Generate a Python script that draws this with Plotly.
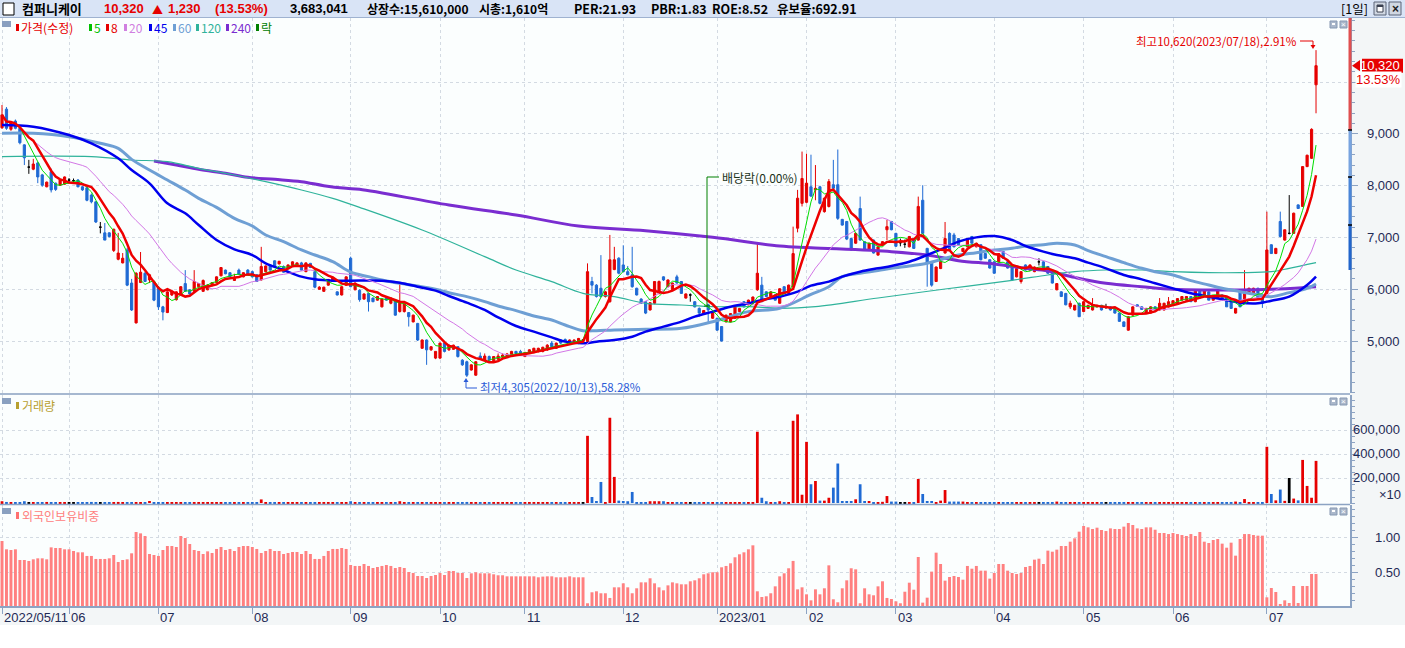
import pandas as pd
import plotly.graph_objects as go

W, H = 1405, 648
KR = "Noto Sans CJK KR"
NUM = "Liberation Sans"

# month ticks (trading-day index) and labels
month_idx = [0, 15, 35, 56, 78, 98, 117, 139, 160, 180, 200, 222, 242, 262, 283]
month_lbl = ["2022/05/11", "06", "07", "08", "09", "10", "11", "12",
             "2023/01", "02", "03", "04", "05", "06", "07"]

opens = [
    9120, 9480, 9090, 9250, 9110, 8790, 8360, 8320, 8440, 8210, 7980, 8270, 8050, 8010, 8030,
    8110, 8100, 8110, 7980, 7960, 7820, 7690, 7200, 7090, 7090, 6750, 6580, 6510, 6760, 6120, 5350, 6130, 6310, 6180, 6140,
    6040, 5660, 5550, 5890, 5800, 5900, 6110, 5990, 5960, 6050, 5960, 5990, 6070, 6130, 6260, 6370, 6320, 6170, 6370, 6240, 6370,
    6340, 6280, 6180, 6340, 6470, 6550, 6490, 6440, 6400, 6470, 6470, 6510, 6340, 6500, 6340, 6000, 5960, 6080, 6150, 5950, 5890, 6080,
    6600, 5990, 5980, 5810, 5920, 5830, 5790, 5660, 5830, 5730, 5790, 5570, 5570, 5550, 5370, 5340, 4860, 5020, 4830, 4670,
    4670, 4960, 4830, 4840, 4890, 4630, 4600, 4440, 4340, 4710, 4630, 4700, 4620, 4650, 4690, 4690, 4710, 4800, 4800,
    4700, 4760, 4780, 4800, 4800, 4830, 4960, 4860, 5020, 5030, 4960, 4960, 4960, 5020, 4990, 6150, 6080, 6020, 5860, 5760, 6380, 6600,
    6470, 6340, 6280, 6020, 5810, 5760, 5600, 5730, 5920, 6240, 6050, 5990, 6240, 6150, 5830, 5890, 5760, 5630, 5540, 5700, 5440,
    5440, 5280, 5370, 5370, 5440, 5570, 5760, 5700, 5730, 5990, 6080, 5950, 5860, 5890, 5730, 6050, 5920, 6050, 7180, 7660,
    7680, 7980, 7920, 7980, 7500, 7600, 8020, 8020, 7350, 7310, 6980, 6890, 7560, 6920, 6760, 6950, 6660, 6860, 7150, 7310,
    7080, 6900, 6870, 6820, 6980, 6950, 7720, 6790, 6530, 6150, 6400, 6700, 7080, 7050, 6980, 6730, 6820, 7020, 6820, 6860, 6690, 6570,
    6530, 6530, 6730, 6530, 6440, 6240, 6150, 6470, 6370, 6340, 6530, 6530, 6440, 6370, 5990, 5950, 5920, 5660, 5600, 5730,
    5570, 5630, 5600, 5660, 5690, 5660, 5660, 5630, 5540, 5370, 5210, 5500, 5700, 5660, 5540, 5540, 5660, 5600, 5600, 5660,
    5700, 5730, 5790, 5790, 5860, 5760, 5990, 5860, 5950, 5790, 5830, 5890, 5860, 5790, 5540, 5950, 5730, 5920, 5920, 6020, 5890,
    5920, 6860, 6690, 7310, 6950, 7080, 7080, 7630, 7600, 8370, 8530, 9950,
]
highs = [
    9560, 9520, 9250, 9280, 9130, 8800, 8500, 8520, 8460, 8230, 8080, 8330, 8060, 8120, 8180,
    8150, 8140, 8130, 8000, 7980, 7850, 7700, 7300, 7280, 7100, 7170, 7090, 6700, 6800, 6200, 6330, 6720, 6330, 6300, 6160,
    6060, 5680, 5960, 5990, 5960, 6060, 6370, 6000, 6370, 6120, 6190, 6100, 6140, 6250, 6430, 6380, 6330, 6300, 6400, 6330, 6390,
    6360, 6290, 6820, 6460, 6480, 6560, 6550, 6460, 6480, 6540, 6520, 6530, 6520, 6510, 6360, 6060, 6050, 6200, 6240, 5960, 6060, 6250,
    6630, 6130, 6000, 5920, 5930, 5840, 5870, 5820, 5840, 5840, 5810, 6120, 5730, 5560, 5510, 5350, 5030, 5030, 4900, 4800,
    4970, 4970, 4930, 4930, 4900, 4650, 4620, 4550, 4610, 4780, 4760, 4720, 4710, 4760, 4760, 4770, 4810, 4810, 4830,
    4790, 4840, 4870, 4870, 4890, 4940, 5000, 4970, 5040, 5050, 5030, 5030, 5060, 5040, 6500, 6240, 6100, 6660, 5970, 7050, 6820, 6620,
    6850, 6450, 6820, 6030, 5830, 5770, 5750, 6160, 6170, 6250, 6190, 6130, 6280, 6160, 5920, 5920, 5770, 5650, 5600, 5720, 5580,
    5450, 5290, 5510, 5540, 5670, 5640, 5770, 5800, 5860, 6890, 6240, 5960, 5960, 5910, 6020, 6060, 6090, 7210, 7920, 8660,
    8620, 8600, 8400, 8000, 7770, 8130, 8500, 8700, 7360, 7320, 7000, 7090, 7790, 6930, 6900, 6960, 6830, 6930, 7340, 7320,
    7090, 6980, 6960, 7030, 6990, 7790, 8010, 6800, 6540, 6440, 6610, 7300, 7100, 7090, 6990, 6800, 6990, 7030, 6900, 6870, 6700, 6580,
    6540, 6700, 6740, 6540, 6450, 6410, 6350, 6480, 6480, 6440, 6600, 6540, 6450, 6380, 6120, 5960, 5930, 5780, 5700, 5740,
    5770, 5700, 5830, 5700, 5700, 5720, 5670, 5640, 5550, 5380, 5480, 5670, 5710, 5670, 5640, 5670, 5670, 5830, 5740, 5850,
    5790, 5830, 5860, 5870, 5870, 6000, 6000, 5990, 5960, 5870, 5990, 5900, 5870, 5800, 5640, 5960, 6370, 6030, 6030, 6030, 5900,
    7500, 6870, 6800, 7500, 7150, 7820, 7480, 7640, 8380, 8600, 9110, 10620,
]
lows = [
    9100, 9080, 9060, 9090, 8800, 8400, 8230, 8300, 8050, 7980, 7970, 7870, 7900, 8000, 8020,
    8070, 8070, 7970, 7900, 7700, 7660, 7280, 7080, 6950, 7000, 6720, 6560, 6500, 6060, 5580, 5340, 6120, 6140, 6120, 5770,
    5600, 5400, 5540, 5870, 5780, 5880, 5950, 5900, 5950, 6040, 5950, 5980, 6060, 6120, 6250, 6290, 6230, 6160, 6280, 6230, 6270,
    6230, 6140, 6170, 6330, 6360, 6430, 6480, 6320, 6390, 6460, 6460, 6360, 6330, 6410, 6020, 5990, 5950, 6070, 6140, 5880, 5880, 6070,
    6040, 5980, 5760, 5800, 5570, 5750, 5780, 5650, 5780, 5710, 5490, 5550, 5550, 5280, 5360, 5000, 4850, 4540, 4810, 4650,
    4650, 4780, 4810, 4830, 4680, 4520, 4305, 4430, 4330, 4650, 4620, 4620, 4610, 4630, 4670, 4670, 4700, 4750, 4740,
    4690, 4750, 4760, 4780, 4780, 4810, 4880, 4850, 4940, 4980, 4940, 4940, 4940, 5000, 4970, 5920, 5840, 5840, 5840, 5740, 6370, 6290,
    6330, 6270, 6030, 5880, 5720, 5520, 5590, 5710, 5900, 6160, 6040, 5980, 6110, 5910, 5820, 5760, 5650, 5470, 5530, 5340, 5430,
    5200, 4990, 5360, 5360, 5430, 5560, 5650, 5690, 5720, 5970, 5750, 5850, 5850, 5780, 5720, 5910, 5910, 6040, 7100, 7600,
    7660, 7780, 7720, 7640, 7480, 7580, 7940, 7340, 7230, 6950, 6750, 6880, 6940, 6750, 6750, 6690, 6650, 6850, 6950, 7140,
    6820, 6830, 6800, 6810, 6780, 6940, 7070, 6050, 6050, 6140, 6390, 6690, 6750, 6810, 6850, 6720, 6810, 6880, 6810, 6560, 6590, 6400,
    6300, 6520, 6590, 6400, 6170, 6230, 6110, 6360, 6360, 6330, 6460, 6360, 6300, 6110, 5980, 5850, 5690, 5620, 5590, 5470,
    5560, 5620, 5590, 5650, 5590, 5620, 5590, 5530, 5370, 5270, 5200, 5490, 5660, 5600, 5530, 5530, 5590, 5590, 5590, 5650,
    5690, 5720, 5780, 5780, 5760, 5750, 5820, 5850, 5790, 5780, 5820, 5790, 5660, 5630, 5530, 5660, 5720, 5910, 5910, 5820, 5640,
    5910, 6690, 6680, 7000, 6940, 7060, 7070, 7560, 7590, 8360, 8520, 9400,
]
closes = [
    9370, 9110, 9220, 9110, 8830, 8540, 8360, 8420, 8170, 8010, 8070, 7920, 7930, 8110, 8170,
    8110, 8100, 7980, 7920, 7720, 7690, 7300, 7200, 6950, 7020, 7160, 6700, 6600, 6080, 5600, 6310, 6330, 6150, 6280, 5790,
    5660, 5560, 5950, 5950, 5950, 6050, 5960, 5910, 6150, 6110, 6170, 6080, 6130, 6240, 6420, 6300, 6240, 6210, 6290, 6320, 6280,
    6240, 6150, 6440, 6450, 6370, 6440, 6540, 6330, 6470, 6530, 6510, 6370, 6510, 6420, 6040, 6040, 6040, 6190, 6230, 5890, 6050, 6240,
    6050, 6120, 5800, 5910, 5760, 5760, 5860, 5810, 5790, 5830, 5500, 5760, 5720, 5470, 5500, 5020, 5020, 4830, 4890, 4800,
    4960, 4800, 4920, 4920, 4700, 4540, 4340, 4540, 4600, 4670, 4710, 4630, 4700, 4710, 4730, 4750, 4800, 4760, 4750,
    4780, 4830, 4860, 4860, 4880, 4920, 4890, 4960, 4960, 4990, 5020, 5020, 5050, 5020, 6340, 6080, 5860, 5860, 5950, 6570, 6570, 6310,
    6340, 6280, 6050, 5890, 5730, 5540, 5740, 6150, 6150, 6180, 6180, 6120, 6120, 5920, 5910, 5890, 5660, 5540, 5590, 5600, 5570,
    5210, 5000, 5500, 5530, 5660, 5630, 5660, 5790, 5850, 6310, 5760, 5860, 5950, 5790, 6010, 5920, 6080, 6690, 7760, 8140,
    8050, 7800, 7950, 7660, 7760, 8080, 7950, 7370, 7240, 6970, 6760, 7080, 6950, 6760, 6890, 6700, 6820, 6920, 7210, 7150,
    6830, 6900, 6870, 7020, 6790, 7600, 7080, 6500, 6080, 6430, 6600, 6980, 6760, 6820, 6860, 6790, 6980, 6890, 6890, 6570, 6600, 6410,
    6310, 6690, 6600, 6410, 6180, 6400, 6340, 6370, 6470, 6430, 6530, 6370, 6310, 6120, 6110, 5860, 5700, 5730, 5690, 5470,
    5760, 5690, 5690, 5690, 5600, 5660, 5600, 5540, 5380, 5280, 5470, 5660, 5670, 5610, 5630, 5660, 5600, 5730, 5730, 5760,
    5780, 5820, 5860, 5860, 5760, 5990, 5830, 5990, 5790, 5860, 5990, 5790, 5660, 5630, 5630, 5660, 5990, 6020, 6020, 5830, 5730,
    6760, 6690, 6790, 7020, 7150, 7080, 7470, 7560, 8370, 8590, 9090, 10320,
]
volume = [
    15000, 9000, 8000, 7000, 8000, 15000, 6000, 8000, 7000, 8000, 9000, 7000, 8000, 8000, 7000,
    7000, 6000, 8000, 7000, 8000, 9000, 8000, 6000, 7000, 6000, 8000, 9000, 8000, 7000, 8000, 7000, 8000, 7000, 17000, 8000,
    8000, 7000, 8000, 8000, 7000, 6000, 7000, 8000, 8000, 7000, 8000, 7000, 8000, 7000, 8000, 8000, 7000, 6000, 7000, 8000, 7000,
    7000, 8000, 30000, 8000, 7000, 8000, 8000, 7000, 8000, 8000, 7000, 8000, 7000, 8000, 8000, 7000, 8000, 8000, 7000, 8000, 8000, 7000,
    15000, 8000, 7000, 8000, 8000, 7000, 8000, 8000, 7000, 8000, 8000, 15000, 8000, 7000, 8000, 8000, 7000, 8000, 8000, 7000,
    8000, 7000, 8000, 8000, 7000, 8000, 9000, 8000, 7000, 8000, 8000, 7000, 8000, 8000, 7000, 8000, 8000, 7000, 8000,
    8000, 7000, 8000, 8000, 7000, 8000, 8000, 7000, 8000, 8000, 7000, 8000, 8000, 5000, 558000, 50000, 17000, 175000, 8000, 708000, 217000, 20000,
    17000, 15000, 92000, 8000, 8000, 8000, 15000, 15000, 15000, 15000, 8000, 8000, 8000, 8000, 8000, 5000, 8000, 8000, 8000, 8000, 8000,
    8000, 7000, 8000, 8000, 7000, 8000, 8000, 7000, 8000, 592000, 44000, 15000, 8000, 8000, 15000, 8000, 8000, 683000, 736000, 69000,
    508000, 156000, 183000, 20000, 20000, 44000, 128000, 328000, 17000, 17000, 17000, 31000, 156000, 17000, 17000, 8000, 8000, 10000, 58000, 12000,
    12000, 5000, 5000, 5000, 8000, 200000, 75000, 17000, 17000, 8000, 20000, 108000, 12000, 12000, 12000, 12000, 8000, 8000, 8000, 8000, 8000, 8000,
    8000, 8000, 8000, 8000, 8000, 8000, 8000, 8000, 8000, 8000, 5000, 8000, 8000, 8000, 12000, 8000, 8000, 8000, 8000, 8000,
    8000, 8000, 8000, 8000, 8000, 5000, 8000, 8000, 8000, 8000, 8000, 8000, 8000, 8000, 8000, 8000, 8000, 8000, 8000, 8000,
    8000, 8000, 8000, 8000, 8000, 8000, 8000, 8000, 8000, 8000, 8000, 8000, 8000, 8000, 12000, 8000, 33000, 8000, 8000, 8000, 8000,
    467000, 75000, 22000, 112000, 18000, 208000, 37000, 22000, 358000, 142000, 44000, 350000,
]
foreign = [
    0.953, 0.834, 0.824, 0.834, 0.681, 0.681, 0.667, 0.691, 0.705, 0.705,
    0.691, 0.862, 0.853, 0.853, 0.834, 0.834, 0.810, 0.791, 0.791, 0.739,
    0.739, 0.696, 0.696, 0.696, 0.705, 0.753, 0.653, 0.681, 0.691, 0.777,
    1.081, 1.062, 1.024, 0.767, 0.753, 0.739, 0.824, 0.881, 0.881, 0.867,
    1.024, 0.996, 0.910, 0.824, 0.810, 0.767, 0.805, 0.781, 0.839, 0.867,
    0.824, 0.839, 0.810, 0.867, 0.881, 0.881, 0.867, 0.839, 0.781, 0.810,
    0.839, 0.810, 0.810, 0.767, 0.781, 0.796, 0.796, 0.767, 0.810, 0.767,
    0.696, 0.696, 0.739, 0.810, 0.839, 0.839, 0.853, 0.839, 0.610, 0.596,
    0.596, 0.624, 0.596, 0.567, 0.581, 0.596, 0.610, 0.596, 0.567, 0.581,
    0.567, 0.510, 0.496, 0.453, 0.453, 0.424, 0.453, 0.467, 0.496, 0.467,
    0.524, 0.524, 0.496, 0.496, 0.424,
    0.491, 0.506, 0.491, 0.491, 0.491, 0.477, 0.463, 0.463, 0.448, 0.448, 0.448, 0.448, 0.448,
    0.448, 0.448, 0.434, 0.444, 0.448, 0.448, 0.434, 0.434, 0.434, 0.448, 0.434, 0.434, 0.434,
    0.063, 0.220, 0.234, 0.206, 0.206, 0.139, 0.291, 0.291, 0.348, 0.291,
    0.206, 0.277, 0.362, 0.362, 0.420, 0.348, 0.291, 0.248, 0.319, 0.362,
    0.348, 0.334, 0.334, 0.377, 0.391, 0.420, 0.477, 0.491, 0.506, 0.506,
    0.577, 0.596, 0.634, 0.720, 0.763, 0.791, 0.834, 0.891,
    0.234, 0.153, 0.163, 0.206, 0.305, 0.448, 0.491, 0.563, 0.668, 0.262,
    0.291, 0.191, 0.105, 0.262, 0.191, 0.277, 0.605, 0.120, 0.077, 0.277,
    0.391, 0.563, 0.548, 0.063, 0.277, 0.191, 0.177, 0.305, 0.377, 0.139,
    0.124, 0.091, 0.063,
    0.228, 0.357, 0.257, 0.724, 0.072, 0.143, 0.515, 0.786, 0.624, 0.386,
    0.438, 0.453, 0.438, 0.400, 0.596, 0.557, 0.596, 0.529, 0.529, 0.415,
    0.496, 0.624, 0.624, 0.529, 0.496, 0.481, 0.496, 0.581, 0.596, 0.686,
    0.700, 0.624, 0.815, 0.800, 0.829, 0.881, 0.881, 0.943, 0.991, 1.086,
    1.167, 1.148, 1.124, 1.143, 1.110, 1.095, 1.133, 1.124, 1.124, 1.158,
    1.210, 1.181, 1.133, 1.124, 1.148, 1.148, 1.114, 1.067, 1.067, 1.052,
    1.067, 1.052, 1.038, 1.024, 1.052, 1.024, 1.081, 0.943, 0.924, 0.967,
    0.981, 0.915, 0.857, 0.929, 0.743, 0.981, 1.052, 1.052, 1.038, 1.029,
    1.029, 0.148, 0.281, 0.224, 0.053, 0.105, 0.067, 0.310, 0.067, 0.310,
    0.310, 0.481, 0.481,
]

# longer moving averages (index, value)
ma45_x = [0, 7, 15, 20, 26, 29, 33, 37, 41, 44, 48, 52, 56, 59, 63, 67, 70, 74, 78, 85,
          89, 93, 97, 100, 104, 108, 111, 115, 119, 123, 126, 130, 133, 137, 141, 144, 148, 152, 155, 159,
          163, 167, 170, 174, 178, 181, 185, 188, 192, 196, 199, 203, 207, 211, 214, 218, 222, 226, 229, 233,
          236, 240, 243, 247, 251, 255, 258, 262, 266, 270, 273, 277, 281, 284, 288, 292, 294]
ma45_y = [9174, 9142, 8980, 8820, 8530, 8304, 8047, 7660, 7467, 7242, 6952, 6772, 6662, 6501, 6372, 6244, 6192, 6166, 6166, 6166,
          6127, 6050, 5973, 5870, 5741, 5600, 5458, 5290, 5181, 5071, 4988, 4955, 4988, 5020, 5084, 5181, 5278, 5374, 5471, 5568,
          5664, 5729, 5793, 5857, 5954, 6070, 6147, 6244, 6340, 6405, 6450, 6533, 6662, 6804, 6920, 7003, 7029, 6952, 6836, 6727,
          6662, 6598, 6514, 6405, 6276, 6192, 6115, 6018, 5922, 5857, 5806, 5741, 5729, 5780, 5857, 6082, 6244]
ma60_x = [0, 7, 15, 22, 26, 29, 33, 37, 41, 44, 48, 52, 56, 59, 63, 67, 70, 74, 78, 82,
          85, 89, 93, 97, 100, 104, 108, 111, 115, 119, 123, 126, 130, 133, 137, 144, 152, 159, 167, 174,
          181, 185, 188, 192, 196, 199, 203, 207, 211, 214, 218, 222, 226, 229, 233, 236, 240, 243, 247, 251,
          255, 258, 262, 266, 270, 273, 277, 281, 284, 288, 292, 294]
ma60_y = [9013, 9013, 8948, 8820, 8723, 8510, 8304, 8111, 7918, 7757, 7583, 7371, 7223, 7049, 6920, 6759, 6662, 6533, 6330, 6244,
          6179, 6115, 6063, 5999, 5934, 5857, 5761, 5677, 5587, 5484, 5406, 5310, 5200, 5200, 5213, 5226, 5245, 5374, 5568, 5632,
          5900, 6050, 6244, 6308, 6360, 6405, 6450, 6501, 6598, 6662, 6707, 6759, 6791, 6836, 6860, 6888, 6855, 6746, 6630, 6514,
          6405, 6340, 6276, 6166, 6082, 6018, 5954, 5890, 5857, 5935, 6018, 6102]
ma120_x = [0, 20, 29, 37, 44, 52, 59, 67, 74, 80, 94, 108, 115, 123, 130, 137, 144, 152, 159, 167,
           174, 182, 196, 211, 226, 234, 240, 247, 255, 262, 270, 277, 284, 288, 294]
ma120_y = [8562, 8562, 8498, 8465, 8337, 8208, 8079, 7918, 7757, 7583, 7145, 6630, 6372, 6147, 5921, 5857, 5729, 5696, 5664, 5664,
           5632, 5664, 5832, 6005, 6173, 6276, 6340, 6372, 6372, 6340, 6321, 6321, 6340, 6405, 6514]
ma240_x = [34, 39, 44, 50, 55, 61, 67, 72, 77, 80, 100, 115, 129, 144, 159, 174, 181, 199, 207, 214,
           222, 229, 234, 240, 247, 255, 262, 270, 277, 284, 292, 294]
ma240_y = [8477, 8400, 8317, 8240, 8163, 8124, 8079, 8002, 7950, 7931, 7628, 7435, 7222, 7132, 7003, 6836, 6804, 6727, 6662, 6553,
           6488, 6405, 6353, 6230, 6115, 6050, 6000, 5986, 5986, 6000, 6038, 6050]

RED, BLUE, BLACK = "#e60000", "#1f6ad4", "#000000"
GRID, AXIS, TXT = "#d3dae2", "#8ca3c3", "#1f2a55"

X_RANGE = [-0.45, 301.6]
P_RANGE = [3996, 11241]

idx = list(range(len(closes)))
up = [i for i in idx if closes[i] > opens[i]]
dn = [i for i in idx if closes[i] < opens[i]]
dj = [i for i in idx if closes[i] == opens[i]]
bar_col = [RED if closes[i] > opens[i] else BLUE if closes[i] < opens[i] else BLACK for i in idx]

s = pd.Series(closes, dtype=float)
ma5 = s.rolling(5, min_periods=1).mean()
ma8 = s.rolling(8, min_periods=1).mean()
ma20 = s.rolling(20, min_periods=1).mean()

fig = go.Figure()


def candles(sel, color):
    return go.Candlestick(
        x=sel, open=[opens[i] for i in sel], high=[highs[i] for i in sel],
        low=[lows[i] for i in sel], close=[closes[i] for i in sel],
        increasing=dict(line=dict(color=color, width=1), fillcolor=color),
        decreasing=dict(line=dict(color=color, width=1), fillcolor=color),
        whiskerwidth=0, showlegend=False, hoverinfo="skip", xaxis="x", yaxis="y")


fig.add_trace(candles(up, RED))
fig.add_trace(candles(dn, BLUE))
fig.add_trace(candles(dj, BLACK))


def line(x, y, color, width, shape="linear"):
    fig.add_trace(go.Scatter(x=x, y=y, mode="lines", line=dict(color=color, width=width, shape=shape),
                             hoverinfo="skip", showlegend=False, xaxis="x", yaxis="y"))


line(ma240_x, ma240_y, "#7a2dd0", 3, "spline")
line(ma120_x, ma120_y, "#2fb39b", 1.2, "spline")
line(ma60_x, ma60_y, "#6e9fd4", 3, "spline")
line(ma45_x, ma45_y, "#0000ee", 2.5, "spline")
line(idx, ma20, "#d377e6", 1)
line(idx, ma5, "#00dd00", 1)
line(idx, ma8, "#ee0000", 2.5)

fig.add_trace(go.Bar(x=idx, y=volume, marker=dict(color=bar_col, line=dict(width=0)), width=0.62,
                     hoverinfo="skip", showlegend=False, xaxis="x", yaxis="y2"))
fig.add_trace(go.Bar(x=idx, y=foreign, marker=dict(color="#ff8080", line=dict(width=0)), width=0.66,
                     hoverinfo="skip", showlegend=False, xaxis="x", yaxis="y3"))


def yax(dom, rng, tickvals, minor):
    return dict(domain=dom, range=rng, side="right", anchor="x", tickmode="array", tickvals=tickvals,
                showticklabels=False, ticks="outside", ticklen=6, tickcolor=AXIS,
                showline=True, linecolor=AXIS, linewidth=1.5,
                showgrid=True, gridcolor=GRID, griddash="dot", gridwidth=1, zeroline=False,
                minor=dict(tickmode="linear", tick0=0, dtick=minor, ticks="outside", ticklen=3,
                           tickcolor=AXIS, showgrid=False),
                fixedrange=True)


fig.update_layout(
    width=W, height=H, autosize=False,
    margin=dict(l=0, r=0, t=0, b=0),
    paper_bgcolor="#f3f6f7", plot_bgcolor="#fbfefe",
    hovermode=False, showlegend=False, barmode="overlay",
    xaxis=dict(domain=[0, 1350 / W], range=X_RANGE, anchor="y3", tickmode="array", tickvals=month_idx,
               showticklabels=False, ticks="outside", ticklen=6, tickcolor=AXIS,
               showgrid=True, gridcolor=GRID, griddash="dot", zeroline=False,
               showline=True, linecolor=AXIS, linewidth=1.5, rangeslider=dict(visible=False), fixedrange=True),
    yaxis=yax([1 - 393 / H, 1 - 18 / H], P_RANGE, [5000, 6000, 7000, 8000, 9000, 10000], 200),
    yaxis2=yax([1 - 504 / H, 1 - 395 / H], [-8000, 897000], [200000, 400000, 600000], 50000),
    yaxis3=yax([1 - 606 / H, 1 - 505 / H], [0.024, 1.467], [0.5, 1.0], 0.1),
)


def px(x):
    return x / W


def py(y):
    return 1 - y / H


def text(x, y, t, color, size=12, anchor="left", family=KR, bg=None):
    fig.add_annotation(x=px(x), y=py(y), xref="paper", yref="paper", text=t, showarrow=False,
                       xanchor=anchor, yanchor="middle", bgcolor=bg, borderpad=0,
                       font=dict(family=family, size=size, color=color))


def rect(x0, y0, x1, y1, fill, edge=None, layer="above"):
    fig.add_shape(type="rect", xref="paper", yref="paper", x0=px(x0), x1=px(x1), y0=py(y0), y1=py(y1),
                  fillcolor=fill, line=dict(color=edge or fill, width=1 if edge else 0), layer=layer)


def seg(x0, y0, x1, y1, color, width=1):
    fig.add_shape(type="line", xref="paper", yref="paper", x0=px(x0), x1=px(x1), y0=py(y0), y1=py(y1),
                  line=dict(color=color, width=width), layer="above")


def tri(pts, color):
    path = "M " + " L ".join(f"{px(a)},{py(b)}" for a, b in pts) + " Z"
    fig.add_shape(type="path", xref="paper", yref="paper", path=path, fillcolor=color,
                  line=dict(color=color, width=0), layer="above")


# header bar
rect(0, 0, W, 17, "#d9e4f6", layer="below")
seg(0, 17.5, W, 17.5, "#9fb2d0")
rect(3, 3, 14, 15, "#ffffff", "#000000")
text(21, 9, "<b>컴퍼니케이</b>", "#000000", 13)
text(103, 9, "<b>10,320</b>", RED, 13, family=NUM)
text(151, 9, "▲", RED, 11)
text(167, 9, "<b>1,230</b>", RED, 13, family=NUM)
text(214, 9, "<b>(13.53%)</b>", RED, 13, family=NUM)
text(289, 9, "<b>3,683,041</b>", "#000000", 13, family=NUM)
text(366, 9, "<b>상장수:15,610,000</b>", "#000000", 12)
text(478, 9, "<b>시총:1,610억</b>", "#000000", 12)
text(573, 9, "<b>PER:21.93</b>", "#000000", 12.5)
text(650, 9, "<b>PBR:1.83</b>", "#000000", 12.5)
text(711, 9, "<b>ROE:8.52</b>", "#000000", 12.5)
text(776, 9, "<b>유보율:692.91</b>", "#000000", 12.5)
text(1369, 9, "[1일]", "#000000", 12.5, anchor="right")
rect(1374, 2, 1386, 15, "#d0d7e2", "#5a6478")
rect(1377, 5, 1383, 12, "#ffffff", "#3a4050")
rect(1377, 5, 1383, 7, "#3a4050")
rect(1389, 2, 1401, 15, "#d0d7e2", "#5a6478")
text(1395, 8.5, "<b>×</b>", "#202020", 12, anchor="center", family=NUM)

# legend row of price panel
rect(2, 21, 11, 27, "#8aa0c0")
legend = [(16, "가격(수정)", RED), (89, "5", "#00c000"), (106, "8", RED), (124, "20", "#d080e0"),
          (149, "45", "#0000ee"), (173, "60", "#6e9fd4"), (196, "120", "#2fb39b"),
          (226, "240", "#7a2dd0"), (256, "락", "#008000")]
for lx, lt, lc in legend:
    rect(lx, 24, lx + 3, 31, lc)
    text(lx + 4, 28, lt, lc, 12)

# panel titles
rect(2, 398, 11, 404, "#8aa0c0")
rect(16, 402, 19, 409, "#b8a030")
text(21, 405, "거래량", "#b8a030", 12)
rect(2, 508, 11, 514, "#8aa0c0")
rect(16, 512, 19, 519, "#ff7070")
text(21, 515, "외국인보유비중", "#ff8080", 12)

# small panel buttons
for by in (21, 398, 508):
    rect(1330, by, 1337, by + 7, "#aab7ca", "#8799b3")
    rect(1332, by + 2, 1335, by + 4, "#ffffff")
    rect(1340, by, 1347, by + 7, "#aab7ca", "#8799b3")
    text(1343.5, by + 3.5, "×", "#ffffff", 8, anchor="center", family=NUM)

# panel separators
seg(0, 394, 1350, 394, AXIS, 1.5)
seg(0, 504.5, 1350, 504.5, AXIS, 1.5)
rect(0, 625, W, H, "#ffffff", layer="below")

# price range strip on the axis line
seg(1350, 18, 1350, 130, "#e05050", 3)
seg(1350, 130, 1350, 177, "#78a4e0", 3)
seg(1350, 177, 1350, 225, "#4a86d8", 3)
seg(1350, 225, 1350, 270, "#2266cc", 3)
for ty in (130, 177, 225):
    seg(1348, ty, 1352, ty, "#000000", 1.5)

# right axis labels (10,000 sits under the change-rate box, as in the source)
for v in [5000, 6000, 7000, 8000, 9000]:
    fig.add_annotation(x=px(1402), y=v, xref="paper", yref="y", text=f"{v:,}", showarrow=False,
                       xanchor="right", yanchor="middle", font=dict(family=NUM, size=13, color=TXT))
for v in [200000, 400000, 600000]:
    fig.add_annotation(x=px(1402), y=v, xref="paper", yref="y2", text=f"{v:,}", showarrow=False,
                       xanchor="right", yanchor="middle", yshift=1.5, font=dict(family=NUM, size=13, color=TXT))
text(1402, 495, "×10", TXT, 13, anchor="right", family=NUM)
for v in [0.5, 1.0]:
    fig.add_annotation(x=px(1402), y=v, xref="paper", yref="y3", text=f"{v:.2f}", showarrow=False,
                       xanchor="right", yanchor="middle", font=dict(family=NUM, size=13, color=TXT))

# current price marker
last = closes[-1]
fig.add_shape(type="rect", xref="paper", yref="y", x0=px(1362), x1=px(1403), y0=last - 135, y1=last + 135,
              fillcolor=RED, line=dict(width=0), layer="above")
fig.add_shape(type="path", xref="paper", yref="y",
              path=f"M {px(1352)},{last} L {px(1360)},{last + 110} L {px(1360)},{last - 110} Z",
              fillcolor=RED, line=dict(width=0), layer="above")
fig.add_annotation(x=px(1402), y=last, xref="paper", yref="y", text=f"{last:,}", showarrow=False,
                   xanchor="right", yanchor="middle", font=dict(family=NUM, size=13, color="#ffffff"))
text(1402, 79.5, "13.53%", RED, 13, anchor="right", family=NUM, bg="#ffffff")

# x-axis month labels
for mi, ml in zip(month_idx, month_lbl):
    fig.add_annotation(x=mi, y=py(617), xref="x", yref="paper", text=ml, showarrow=False,
                       xanchor="left", yanchor="middle", xshift=0,
                       font=dict(family=NUM, size=13, color=TXT))

# high / low / ex-dividend notes
text(1298, 41, "최고10,620(2023/07/18),2.91%", RED, 11.5, anchor="right")
seg(1300, 41, 1313, 41, RED)
seg(1313, 41, 1313, 46, RED)
tri([(1310.5, 45), (1315.5, 45), (1313, 49)], RED)

text(479, 387, "최저4,305(2022/10/13),58.28%", "#2a5bd7", 11.5)
seg(466, 380, 466, 388, "#2a5bd7")
seg(466, 388, 477, 388, "#2a5bd7")
tri([(463.5, 382), (468.5, 382), (466, 378)], "#2a5bd7")

seg(707, 177, 719, 177, "#008000")
seg(707, 177, 707, 307, "#008000")
seg(704, 306, 710, 306, "#008000")
text(721, 177, "배당락(0.00%)", "#1a331a", 12)

# page body has a default margin; drop it so the figure sits at the window corner
fig.write_html("out.html", config={"displayModeBar": False},
               post_script="document.body.style.margin='0';")
